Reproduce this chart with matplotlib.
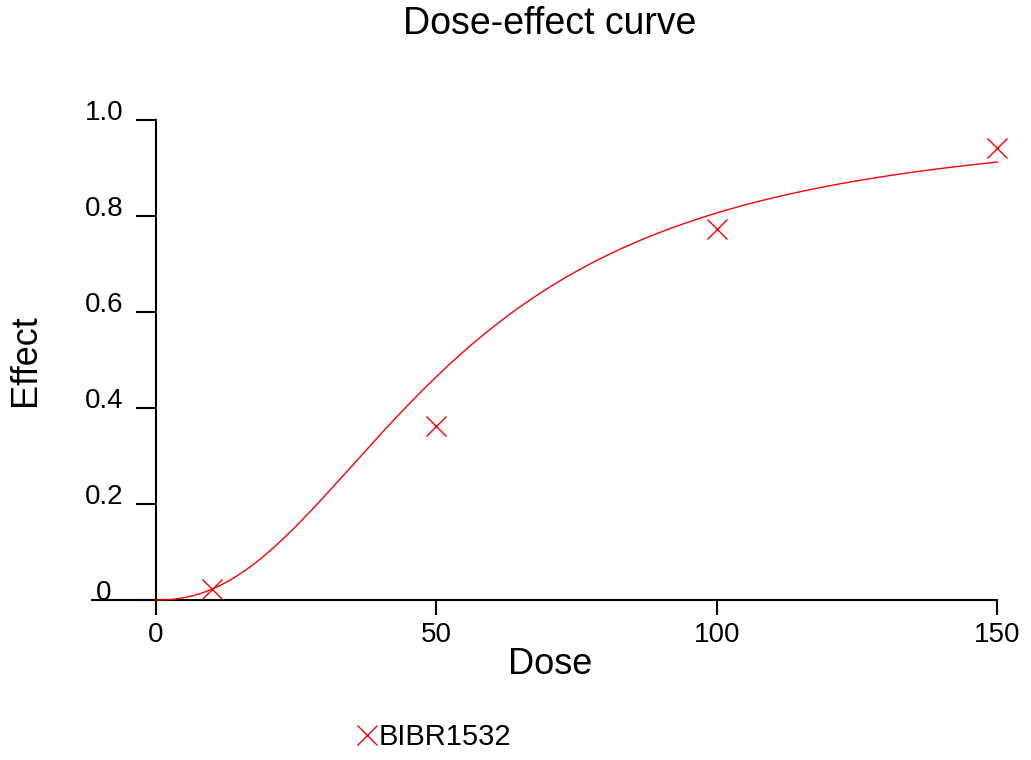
import numpy as np
import matplotlib
matplotlib.use("Agg")
import matplotlib.pyplot as plt
from matplotlib.lines import Line2D

# ── data ──────────────────────────────────────
dose = [10, 50, 100, 150]
effect = [0.023, 0.363, 0.773, 0.942]
series_name = "BIBR1532"

# fitted Hill curve parameters
ec50 = 53.2
hill_slope = 2.26
top = 1.0
fit_range = (0, 150)

x_ticks = [0, 50, 100, 150]
x_ticklabels = ["0", "50", "100", "150"]
y_ticks = [0, 0.2, 0.4, 0.6, 0.8, 1.0]
y_ticklabels = ["0", "0.2", "0.4", "0.6", "0.8", "1.0"]

RED = "#FF0000"
plt.rcParams["font.family"] = ["Liberation Sans", "DejaVu Sans"]

W, H = 1031, 760
fig = plt.figure(figsize=(W / 100, H / 100), dpi=100)
# axes: x from -11.3 (pixel 92) to 150 (pixel 997), y from 0 (pixel 600) to 1 (pixel 120)
ax = fig.add_axes([92.3 / W, 160 / H, 905 / W, 480 / H])
ax.set_xlim(-11.3, 150)
ax.set_ylim(0, 1)

xs = np.linspace(fit_range[0], fit_range[1], 400)
ys = top * xs ** hill_slope / (ec50 ** hill_slope + xs ** hill_slope)
ax.plot(xs, ys, color=RED, lw=1.0, zorder=3, clip_on=False)
ax.plot(dose, effect, ls="none", marker="x", ms=14, mew=1.0, color=RED,
        zorder=4, clip_on=False)

for s in ["top", "right"]:
    ax.spines[s].set_visible(False)
ax.spines["left"].set_position(("data", 0))
ax.spines["left"].set_linewidth(1.5)
ax.spines["bottom"].set_linewidth(1.5)

ax.set_xticks(x_ticks)
ax.set_xticklabels(x_ticklabels, fontsize=20)
ax.set_yticks(y_ticks)
ax.set_yticklabels(y_ticklabels, fontsize=20)
ax.tick_params(axis="x", direction="out", length=10.8, width=1.5, pad=5.0)
ax.tick_params(axis="y", direction="out", length=14.4, width=1.5, pad=23)
plt.setp(ax.get_yticklabels(), ha="center", va="baseline")

fig.text(550 / W, 1 - 665 / H, "Dose", fontsize=26, ha="center", va="center")
fig.text(25 / W, 1 - 360 / H, "Effect", fontsize=26, rotation=90,
         ha="center", va="center")
fig.text(550 / W, 1 - 24 / H, "Dose-effect curve", fontsize=27,
         ha="center", va="center")

handle = Line2D([], [], ls="none", marker="x", ms=14, mew=1.0, color=RED)
fig.legend([handle], [series_name], loc="center left",
           bbox_to_anchor=(366.5 / W, 1 - 737 / H), frameon=False,
           handlelength=0, handletextpad=0.4, borderpad=0, borderaxespad=0,
           fontsize=21)

fig.savefig("out.png", dpi=100)
